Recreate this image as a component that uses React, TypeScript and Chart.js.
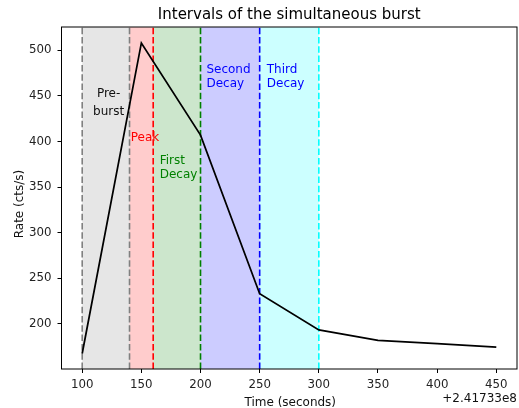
import React, { useEffect, useRef } from "react";
import { Chart, registerables } from "chart.js";

Chart.register(...registerables);

// ---- data ----
const timeOffsets = [100, 150, 200, 250, 300, 350, 400, 450];
const rates = [167.5, 508, 407, 233, 193.4, 182, 178.4, 174.5];

const xTicks = [100, 150, 200, 250, 300, 350, 400, 450];
const yTicks = [200, 250, 300, 350, 400, 450, 500];
const xRange = [82.5, 467.5];
const yRange = [150.5, 525.5];

const intervalStarts = [100, 140, 160, 200, 250];
const intervalEnds = [140, 160, 200, 250, 300];
const intervalRGB = ["128,128,128", "255,0,0", "0,128,0", "0,0,255", "0,255,255"];

const boundaryTimes = [100, 140, 160, 200, 250, 300];
const boundaryColors = ["#808080", "#808080", "#ff0000", "#008000", "#0000ff", "#00ffff"];

const labelLines = [["Pre-", "burst"], ["Peak"], ["First", "Decay"], ["Second", "Decay"], ["Third", "Decay"]];
const labelX = [122.3, 141, 165.5, 205, 256];
const labelY = [448.7, 400.4, 375, 474.7, 474.7];
const labelAlign = ["center", "left", "left", "left", "left"];
const labelGap = [17.5, 14, 13.4, 13.4, 13.4];
const labelColors = ["#111111", "#ff0000", "#008000", "#0000ff", "#0000ff"];

const titleText = "Intervals of the simultaneous burst";
const xLabel = "Time (seconds)";
const yLabel = "Rate (cts/s)";
const offsetText = "+2.41733e8";

const FONT = "'DejaVu Sans', sans-serif";

export default function App() {
  const ref = useRef<HTMLCanvasElement>(null);

  useEffect(() => {
    document.body.style.margin = "0";
    const canvas = ref.current!;

    const decor = {
      id: "decor",
      beforeDatasetsDraw(chart: any) {
        const { ctx, chartArea: a, scales } = chart;
        const x = scales.x;
        ctx.save();
        for (let i = 0; i < intervalStarts.length; i++) {
          const x0 = x.getPixelForValue(intervalStarts[i]);
          const x1 = x.getPixelForValue(intervalEnds[i]);
          ctx.fillStyle = `rgba(${intervalRGB[i]},0.2)`;
          ctx.fillRect(x0, a.top, x1 - x0, a.bottom - a.top);
        }
        ctx.lineWidth = 1.6;
        ctx.setLineDash([6.5, 2.8]);
        for (let i = 0; i < boundaryTimes.length; i++) {
          const px = x.getPixelForValue(boundaryTimes[i]);
          ctx.strokeStyle = boundaryColors[i];
          ctx.beginPath();
          ctx.moveTo(px, a.bottom);
          ctx.lineTo(px, a.top);
          ctx.stroke();
        }
        ctx.restore();
      },
      afterDatasetsDraw(chart: any) {
        const { ctx, chartArea: a, scales } = chart;
        const x = scales.x;
        const y = scales.y;
        ctx.save();
        // spines
        ctx.strokeStyle = "#000";
        ctx.lineWidth = 1;
        ctx.strokeRect(a.left, a.top, a.right - a.left, a.bottom - a.top);
        // annotations
        ctx.font = `12px ${FONT}`;
        ctx.textBaseline = "alphabetic";
        for (let i = 0; i < labelLines.length; i++) {
          ctx.fillStyle = labelColors[i];
          ctx.textAlign = labelAlign[i] as CanvasTextAlign;
          const px = x.getPixelForValue(labelX[i]);
          const py = y.getPixelForValue(labelY[i]);
          labelLines[i].forEach((line, j) => {
            ctx.fillText(line, px, py + j * labelGap[i]);
          });
        }
        // title
        ctx.fillStyle = "#000";
        ctx.font = `15px ${FONT}`;
        ctx.textAlign = "center";
        ctx.fillText(titleText, (a.left + a.right) / 2, 19.3);
        // x label
        ctx.font = `12px ${FONT}`;
        ctx.fillStyle = "#111";
        ctx.fillText(xLabel, (a.left + a.right) / 2 + 1, 406);
        // offset text
        ctx.textAlign = "right";
        ctx.fillText(offsetText, a.right, 402);
        // y label
        ctx.translate(22.7, (a.top + a.bottom) / 2 + 6);
        ctx.rotate(-Math.PI / 2);
        ctx.textAlign = "center";
        ctx.fillText(yLabel, 0, 0);
        ctx.restore();
      },
    };

    const chart = new Chart(canvas, {
      type: "line",
      data: {
        datasets: [
          {
            data: timeOffsets.map((t, i) => ({ x: t, y: rates[i] })),
            borderColor: "#000",
            borderWidth: 1.75,
            pointRadius: 0,
            tension: 0,
            fill: false,
          },
        ],
      },
      options: {
        animation: false,
        responsive: false,
        maintainAspectRatio: false,
        layout: { padding: { top: 27, right: 2, left: 0, bottom: 0 } },
        plugins: {
          legend: { display: false },
          title: { display: false },
          tooltip: { enabled: false },
        },
        scales: {
          x: {
            type: "linear",
            min: xRange[0],
            max: xRange[1],
            afterBuildTicks: (s: any) => {
              s.ticks = xTicks.map((v) => ({ value: v }));
            },
            afterFit: (s: any) => {
              s.height = 39;
            },
            grid: { drawOnChartArea: false, drawTicks: true, tickLength: 4, color: "#000", lineWidth: 1 },
            border: { display: false },
            ticks: {
              font: { family: FONT, size: 11.8 },
              color: "#222",
              padding: 5,
              maxRotation: 0,
              autoSkip: false,
            },
          },
          y: {
            type: "linear",
            min: yRange[0],
            max: yRange[1],
            afterBuildTicks: (s: any) => {
              s.ticks = yTicks.map((v) => ({ value: v }));
            },
            afterFit: (s: any) => {
              s.width = 61.5;
            },
            grid: { drawOnChartArea: false, drawTicks: true, tickLength: 4, color: "#000", lineWidth: 1 },
            border: { display: false },
            ticks: {
              font: { family: FONT, size: 11.8 },
              color: "#222",
              padding: 6,
              autoSkip: false,
            },
          },
        },
      } as any,
      plugins: [decor],
    });

    return () => chart.destroy();
  }, []);

  return <canvas ref={ref} width={519} height={408} style={{ display: "block" }} />;
}
